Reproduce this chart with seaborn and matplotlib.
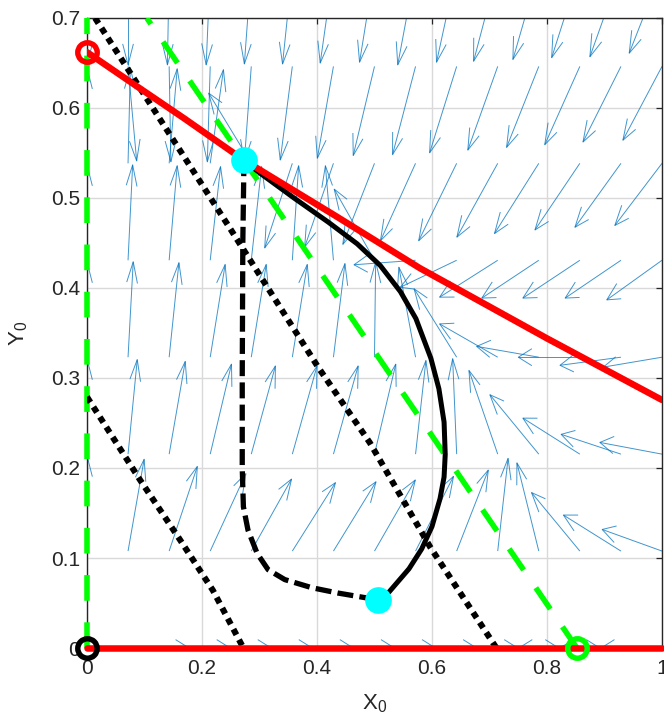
import numpy as np
import pandas as pd
import matplotlib
matplotlib.use("Agg")
import matplotlib.pyplot as plt
import seaborn as sns
from matplotlib.collections import LineCollection

# ---------------- data ----------------
# direction-field sample grid
x_grid = [0.0, 0.0714, 0.1429, 0.2143, 0.2857, 0.3571, 0.4286, 0.5,
          0.5714, 0.6429, 0.7143, 0.7857, 0.8571, 0.9286, 1.0]
y_grid = [0.0, 0.1077, 0.2154, 0.3231, 0.4308, 0.5385, 0.6462, 0.7539]

# arrow displacements (data units), one row per y_grid value (bottom -> top)
U_rows = [
    [0.0, 0.106, 0.106, 0.106, 0.106, 0.106, 0.106, 0.106, 0.106, 0.106, 0.106, 0.106, -0.106, -0.106, -0.106],
    [0.0, 0.028, 0.049, 0.062, 0.070, 0.075, 0.074, 0.071, 0.066, 0.055, 0.018, -0.038, -0.084, -0.100, -0.104],
    [0.0, 0.016, 0.028, 0.037, 0.042, 0.043, 0.043, 0.037, 0.018, -0.007, -0.050, -0.085, -0.099, -0.104, -0.108],
    [0.0, 0.009, 0.017, 0.026, 0.026, 0.026, 0.020, 0.002, -0.029, -0.074, -0.101, -0.108, -0.107, -0.106, -0.102],
    [0.0, 0.008, 0.014, 0.018, 0.018, 0.011, -0.014, -0.070, -0.107, -0.098, -0.101, -0.099, -0.099, -0.097, -0.096],
    [0.0, 0.004, 0.014, 0.023, -0.074, -0.048, -0.050, -0.055, -0.061, -0.066, -0.071, -0.077, -0.078, -0.080, -0.082],
    [0.0, 0.015, 0.003, -0.005, -0.012, -0.021, -0.028, -0.037, -0.040, -0.047, -0.052, -0.056, -0.061, -0.066, -0.068],
    [0.0, 0.0, -0.003, -0.007, -0.012, -0.017, -0.023, -0.026, -0.031, -0.035, -0.042, -0.045, -0.049, -0.054, -0.057],
]
V_rows = [
    [0.0, 0.0, 0.0, 0.0, 0.0, 0.0, 0.0, 0.0, 0.0, 0.0, 0.0, 0.0, 0.0, 0.0, 0.0],
    [0.106, 0.102, 0.094, 0.086, 0.080, 0.076, 0.077, 0.079, 0.083, 0.090, 0.103, 0.098, 0.065, 0.040, 0.024],
    [0.106, 0.105, 0.103, 0.100, 0.098, 0.098, 0.098, 0.100, 0.104, 0.106, 0.093, 0.066, 0.040, 0.022, 0.013],
    [0.106, 0.106, 0.105, 0.103, 0.103, 0.103, 0.104, 0.106, 0.100, 0.076, 0.037, 0.012, 0.000, -0.009, -0.011],
    [0.106, 0.106, 0.105, 0.104, 0.104, 0.105, 0.105, 0.079, -0.005, -0.030, -0.041, -0.042, -0.042, -0.042, -0.044],
    [0.106, 0.106, 0.105, 0.104, 0.078, -0.094, -0.093, -0.090, -0.086, -0.086, -0.082, -0.078, -0.074, -0.071, -0.069],
    [0.106, -0.105, -0.106, -0.106, -0.105, -0.104, -0.102, -0.099, -0.098, -0.096, -0.093, -0.090, -0.087, -0.084, -0.082],
    [-0.106, -0.106, -0.106, -0.106, -0.105, -0.105, -0.104, -0.103, -0.106, -0.103, -0.102, -0.100, -0.098, -0.097, -0.093],
]

# nullclines
red_curve_x = [0.0, 0.08, 0.17, 0.273, 0.43, 0.579, 0.8, 1.0]
red_curve_y = [0.662, 0.627, 0.588, 0.542, 0.481, 0.422, 0.344, 0.2756]
red_axis_x = [0.0, 1.0]
red_axis_y = [0.0, 0.0]
green_axis_x = [0.0, 0.0]
green_axis_y = [0.0, 0.7]
green_diag_x = [0.852, 0.104]
green_diag_y = [0.0, 0.7]

# dotted lines
dot1_x = [0.014, 0.243, 0.402, 0.492, 0.597, 0.712]
dot1_y = [0.700, 0.472, 0.312, 0.228, 0.112, 0.000]
dot2_x = [0.0, 0.092, 0.162, 0.219, 0.272]
dot2_y = [0.279, 0.187, 0.120, 0.064, 0.000]

# trajectories between the two cyan points
solid_x = [0.506, 0.525, 0.560, 0.582, 0.600, 0.614, 0.621, 0.623, 0.621, 0.612,
           0.598, 0.572, 0.545, 0.510, 0.470, 0.420, 0.360, 0.300, 0.273]
solid_y = [0.053, 0.062, 0.088, 0.110, 0.135, 0.166, 0.190, 0.215, 0.251, 0.288,
           0.322, 0.366, 0.396, 0.425, 0.449, 0.473, 0.500, 0.528, 0.542]
dashed_x = [0.273, 0.271, 0.270, 0.270, 0.272, 0.280, 0.296, 0.315, 0.344,
            0.391, 0.437, 0.483, 0.506]
dashed_y = [0.542, 0.450, 0.300, 0.200, 0.157, 0.131, 0.105, 0.087, 0.076,
            0.067, 0.061, 0.056, 0.053]

# equilibria
open_pts_x = [0.0, 0.0, 0.852]
open_pts_y = [0.662, 0.0, 0.0]
open_pts_c = ["#FF0000", "#000000", "#00FF00"]
cyan_x = [0.273, 0.506]
cyan_y = [0.542, 0.053]

x_ticks = [0, 0.2, 0.4, 0.6, 0.8, 1]
x_tick_labels = ["0", "0.2", "0.4", "0.6", "0.8", "1"]
y_ticks = [0, 0.1, 0.2, 0.3, 0.4, 0.5, 0.6, 0.7]
y_tick_labels = ["0", "0.1", "0.2", "0.3", "0.4", "0.5", "0.6", "0.7"]

# ---------------- styling ----------------
sns.set_theme(style="white")
plt.rcParams["font.family"] = ["Liberation Sans", "DejaVu Sans"]
plt.rcParams["mathtext.fontset"] = "custom"
plt.rcParams["mathtext.rm"] = "Liberation Sans"
plt.rcParams["mathtext.it"] = "Liberation Sans"
plt.rcParams["mathtext.default"] = "regular"
plt.rcParams["lines.scale_dashes"] = False
plt.rcParams["axes.axisbelow"] = True

DARK = "#262626"
fig = plt.figure(figsize=(6.64, 7.25), dpi=100)
ax = fig.add_axes([0.131, 0.1062, 0.866, 0.869])
ax.set_xlim(0, 1)
ax.set_ylim(0, 0.7)

# ---------------- direction field (MATLAB-like open arrow heads) ----------------
X, Y = np.meshgrid(np.array(x_grid), np.array(y_grid))
U = np.array(U_rows)
V = np.array(V_rows)
mask = (np.abs(U) + np.abs(V)) > 0
xs, ys, us, vs = X[mask], Y[mask], U[mask], V[mask]
alpha, beta = 0.22, 0.40
tx, ty = xs + us, ys + vs
segs = []
for x0, y0, u, v, x1, y1 in zip(xs, ys, us, vs, tx, ty):
    segs.append([(x0, y0), (x1, y1)])
    a1 = (x1 - alpha * (u + beta * v), y1 - alpha * (v - beta * u))
    a2 = (x1 - alpha * (u - beta * v), y1 - alpha * (v + beta * u))
    segs.append([a1, (x1, y1), a2])
lc = LineCollection(segs, colors="#0072BD", linewidths=0.7, alpha=0.75, zorder=1.8)
ax.add_collection(lc)

# ---------------- nullclines ----------------
sns.lineplot(x=green_axis_x, y=green_axis_y, ax=ax, sort=False, estimator=None,
             color="#00FF00", linewidth=4.0, linestyle=(0, (18.5, 15.5)),
             dash_capstyle="butt", clip_on=False, zorder=3)
sns.lineplot(x=green_diag_x, y=green_diag_y, ax=ax, sort=False, estimator=None,
             color="#00FF00", linewidth=4.0, linestyle=(0, (18.5, 15.5)),
             dash_capstyle="butt", zorder=3)

# dotted lines
for dx_, dy_ in [(dot1_x, dot1_y), (dot2_x, dot2_y)]:
    sns.lineplot(x=dx_, y=dy_, ax=ax, sort=False, estimator=None,
                 color="black", linewidth=4.4, linestyle=(0, (4.6, 4.0)),
                 dash_capstyle="butt", zorder=3.2)

# trajectories
sns.lineplot(x=dashed_x, y=dashed_y, ax=ax, sort=False, estimator=None,
             color="black", linewidth=3.8, linestyle=(0, (11.5, 4.5)),
             dash_capstyle="butt", zorder=3.4)
sns.lineplot(x=solid_x, y=solid_y, ax=ax, sort=False, estimator=None,
             color="black", linewidth=3.6, zorder=3.4)

# red nullclines
sns.lineplot(x=red_curve_x, y=red_curve_y, ax=ax, sort=False, estimator=None,
             color="#FF0000", linewidth=4.7, zorder=3.6)
sns.lineplot(x=red_axis_x, y=red_axis_y, ax=ax, sort=False, estimator=None,
             color="#FF0000", linewidth=4.7, clip_on=False, zorder=3.6)

# equilibria
for px, py, pc in zip(open_pts_x, open_pts_y, open_pts_c):
    ax.plot([px], [py], marker="o", ms=14, mew=3.9, mfc="none", mec=pc,
            linestyle="none", clip_on=False, zorder=5)
sns.scatterplot(x=cyan_x, y=cyan_y, ax=ax, s=370, color="#00FFFF",
                linewidth=0, zorder=5, clip_on=False)

# ---------------- axes cosmetics ----------------
ax.set_xticks(x_ticks)
ax.set_xticklabels(x_tick_labels)
ax.set_yticks(y_ticks)
ax.set_yticklabels(y_tick_labels)
ax.grid(True, color="#d9d9d9", linewidth=1.0)
ax.tick_params(axis="both", which="major", direction="in", length=4.5, width=0.9,
               color=DARK, labelcolor=DARK, labelsize=15, top=True, right=True)
ax.tick_params(axis="x", pad=8)
ax.tick_params(axis="y", pad=5)
for sp in ax.spines.values():
    sp.set_color(DARK)
    sp.set_linewidth(1.0)
    sp.set_visible(True)
ax.set_xlabel(r"$\mathregular{X_0}$", fontsize=16, color=DARK, labelpad=10)
ax.set_ylabel(r"$\mathregular{Y_0}$", fontsize=16, color=DARK, labelpad=15)
if ax.get_legend() is not None:
    ax.get_legend().remove()

fig.savefig("out.png", dpi=100, facecolor="white")
